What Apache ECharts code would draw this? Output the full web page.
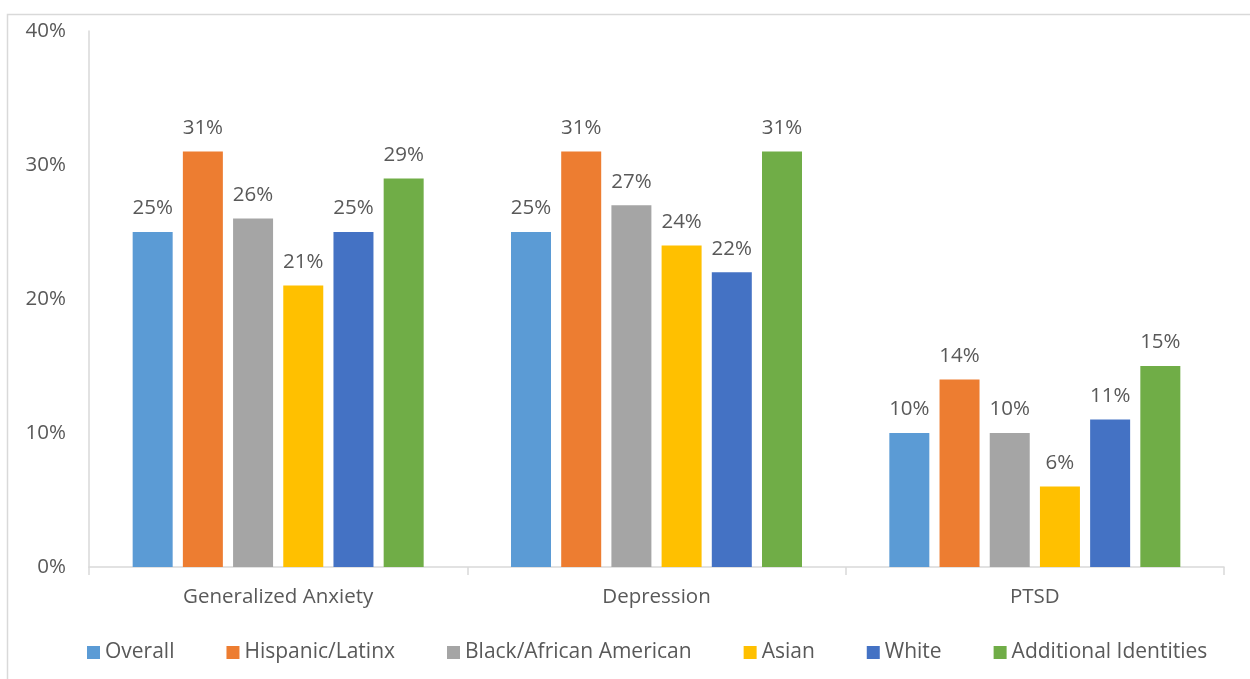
<!DOCTYPE html>
<html>
<head>
<meta charset="utf-8">
<script src="https://cdn.jsdelivr.net/npm/echarts@6/dist/echarts.min.js"></script>
<style>
  html, body { margin: 0; padding: 0; background: #fff; }
  #chart { width: 1250px; height: 679px; }
</style>
</head>
<body>
<div id="chart"></div>
<script>
// Categories along the x axis
const categories = ['Generalized Anxiety', 'Depression', 'PTSD'];

// Percent of respondents in each group (one array per series)
const overall = [25, 25, 10];
const hispanicLatinx = [31, 31, 14];
const blackAfricanAmerican = [26, 27, 10];
const asian = [21, 24, 6];
const white = [25, 22, 11];
const additionalIdentities = [29, 31, 15];

const seriesNames = ['Overall', 'Hispanic/Latinx', 'Black/African American', 'Asian', 'White', 'Additional Identities'];
const seriesValues = [overall, hispanicLatinx, blackAfricanAmerican, asian, white, additionalIdentities];
const seriesColors = ['#5B9BD5', '#ED7D31', '#A5A5A5', '#FFC000', '#4472C4', '#70AD47'];

// Y axis ticks
const yMin = 0, yMax = 40, yStep = 10;

const FONT = '"Open Sans", Lato, sans-serif';
const TEXT = '#595959';
const FS = 20.5;

const chart = echarts.init(document.getElementById('chart'));

chart.setOption({
  backgroundColor: '#ffffff',
  animation: false,
  textStyle: { fontFamily: FONT },
  grid: { left: 89, right: 26, top: 31, bottom: 112, containLabel: false },
  graphic: [{
    type: 'polyline',
    shape: { points: [[7.5, 690], [7.5, 14.5], [1260, 14.5]] },
    style: { stroke: '#d9d9d9', lineWidth: 1.5, fill: null },
    silent: true
  }],
  legend: {
    data: seriesNames,
    left: 82,
    top: 637,
    itemWidth: 13,
    itemHeight: 13,
    itemGap: 52,
    icon: 'rect',
    textStyle: { color: TEXT, fontSize: 21, fontFamily: FONT }
  },
  xAxis: {
    type: 'category',
    data: categories,
    axisLine: { show: true, lineStyle: { color: '#d9d9d9', width: 1.5 } },
    axisTick: { show: true, length: 8, alignWithLabel: false, lineStyle: { color: '#d9d9d9', width: 1.5 } },
    axisLabel: { color: TEXT, fontSize: FS, margin: 20, fontFamily: FONT },
    splitLine: { show: false }
  },
  yAxis: {
    type: 'value',
    min: yMin,
    max: yMax,
    interval: yStep,
    axisLine: { show: true, lineStyle: { color: '#d9d9d9', width: 1.5 } },
    axisTick: { show: false },
    splitLine: { show: false },
    axisLabel: { color: TEXT, fontSize: FS, margin: 23, fontFamily: FONT, formatter: '{value}%' }
  },
  series: seriesNames.map((name, i) => ({
    name: name,
    type: 'bar',
    data: seriesValues[i],
    barWidth: 40,
    barGap: '25.5%',
    itemStyle: { color: seriesColors[i] },
    label: {
      show: true,
      position: 'top',
      distance: 13,
      color: TEXT,
      fontSize: FS,
      fontFamily: FONT,
      formatter: '{c}%'
    }
  }))
});
</script>
</body>
</html>
